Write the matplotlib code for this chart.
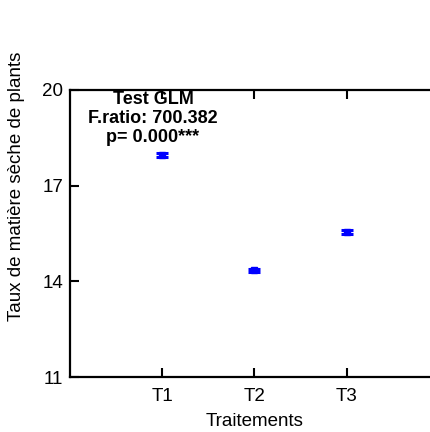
import matplotlib
matplotlib.use("Agg")
import matplotlib.pyplot as plt

# Mean dry-matter rate per treatment with its standard error
treatments = ["T1", "T2", "T3"]
means = [17.96, 14.34, 15.55]
errors = [0.06, 0.06, 0.06]

y_ticks = [11, 14, 17, 20]
stat_lines = ["Test GLM", "F.ratio: 700.382", "p= 0.000***"]

plt.rcParams["font.family"] = ["Liberation Sans", "DejaVu Sans"]

fig = plt.figure(figsize=(4.31, 4.32), dpi=100)
ax = fig.add_axes([0.1624, 0.1273, 0.856, 0.6644])

x = list(range(1, len(treatments) + 1))
ax.errorbar(x, means, yerr=errors, fmt="s", color="#0000ff", ecolor="#0000ff",
            markersize=4, capsize=4.5, capthick=2.2, elinewidth=2.5)

ax.set_xlim(0, 4)
ax.set_ylim(11, 20)
ax.set_xticks(x)
ax.set_xticklabels(treatments)
ax.set_yticks(y_ticks)

ax.tick_params(axis="both", direction="in", length=6.5, width=1.5,
               labelsize=13.5, top=True, right=True, colors="black")
ax.tick_params(axis="x", pad=8)
ax.tick_params(axis="y", pad=5)
for s in ax.spines.values():
    s.set_linewidth(1.6)

ax.set_xlabel("Traitements", fontsize=13.5, labelpad=6)
ax.set_ylabel("Taux de matière sèche de plants", fontsize=13.5)
ax.yaxis.set_label_coords(-0.122, 0.665)

for text, ypos in zip(stat_lines, [19.70, 19.11, 18.52]):
    ax.text(0.9, ypos, text, ha="center", va="center", fontsize=13,
            fontweight="bold")

fig.savefig("out.png", dpi=100)
